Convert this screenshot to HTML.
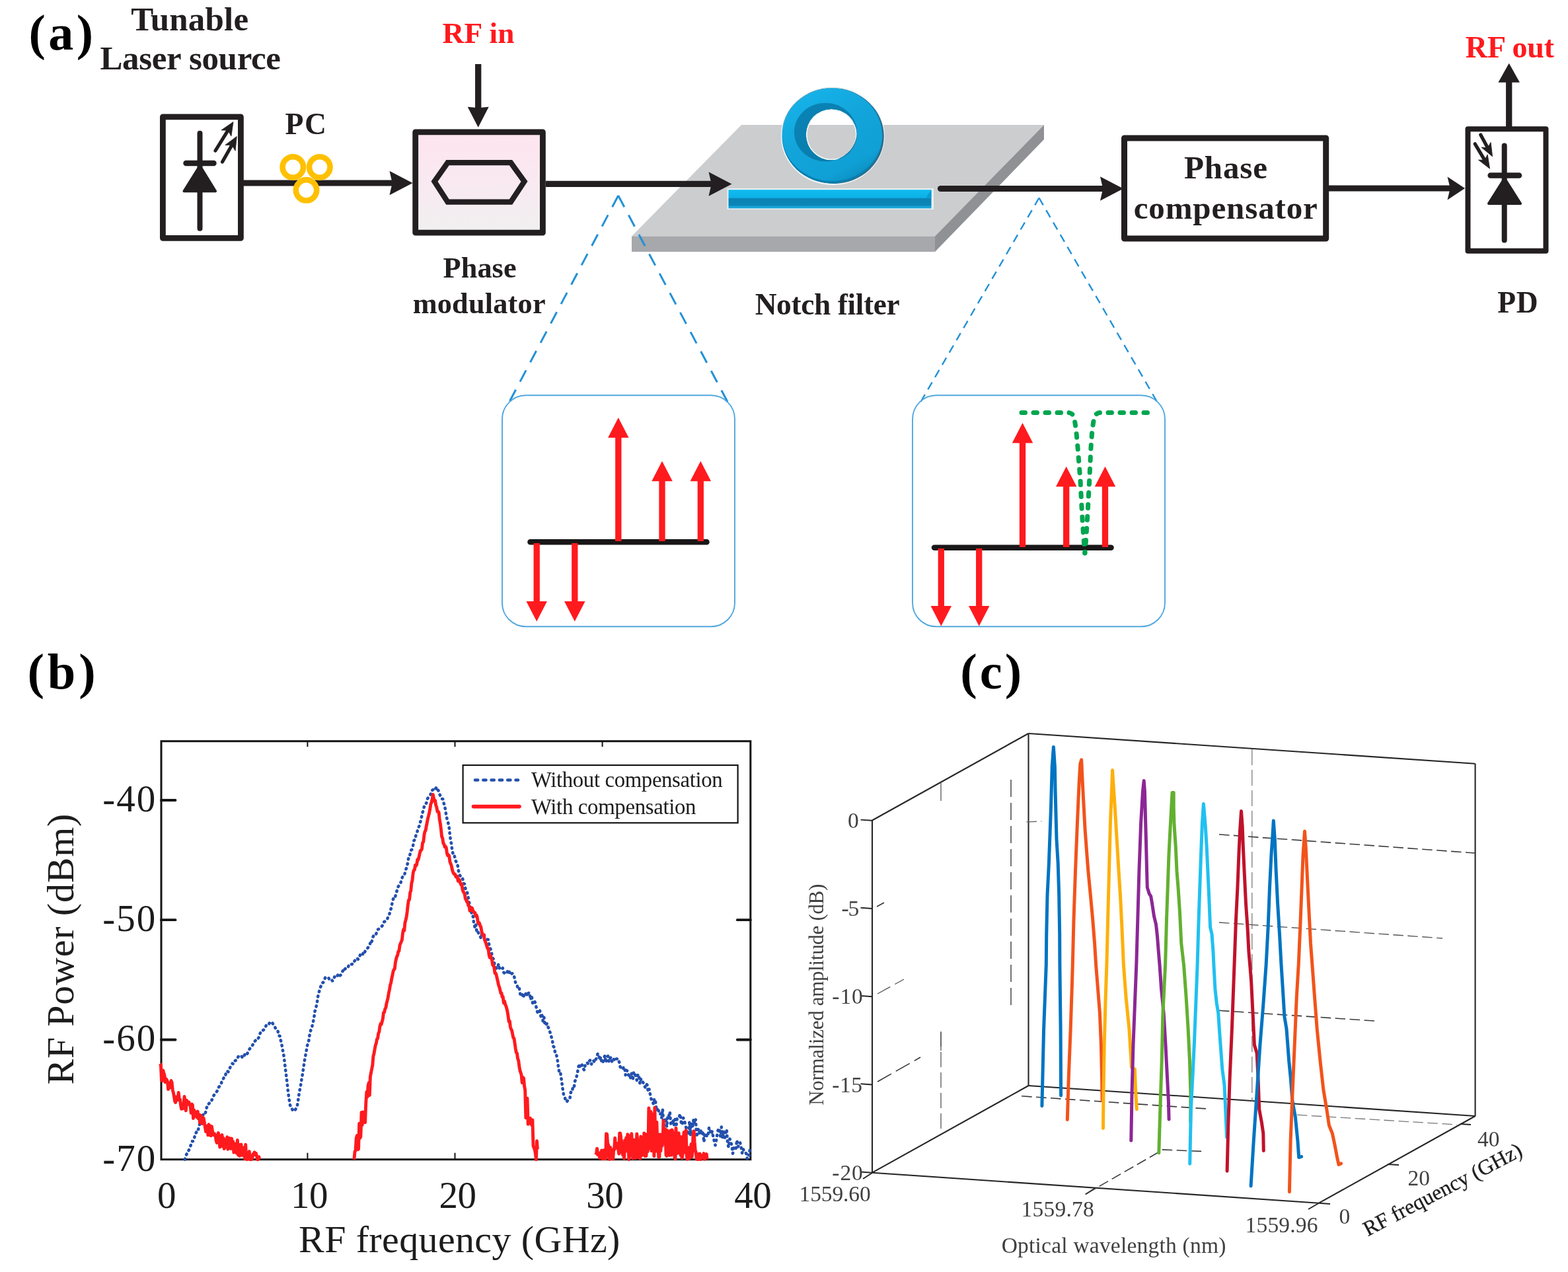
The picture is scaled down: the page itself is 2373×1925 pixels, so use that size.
<!DOCTYPE html>
<html lang="en"><head><meta charset="utf-8"><title>Microwave photonic filter figure</title>
<style>
html,body{margin:0;padding:0;background:#fff;}
svg{display:block;}
text{font-family:"Liberation Serif","Times New Roman",serif;white-space:pre;}
</style></head>
<body>
<svg xmlns="http://www.w3.org/2000/svg" width="2373" height="1925" viewBox="0 0 2373 1925">
<rect width="2373" height="1925" fill="#fff"/>
<defs>
<linearGradient id="pm" x1="0" y1="0" x2="0" y2="1"><stop offset="0" stop-color="#fee4ef"/><stop offset="0.5" stop-color="#f9e9f1"/><stop offset="1" stop-color="#f0f0f0"/></linearGradient>
<linearGradient id="bar" x1="0" y1="0" x2="0" y2="1"><stop offset="0" stop-color="#10bbef"/><stop offset="0.42" stop-color="#0cb2e8"/><stop offset="0.48" stop-color="#0a82b2"/><stop offset="0.84" stop-color="#0a86b8"/><stop offset="0.9" stop-color="#18a4d6"/><stop offset="1" stop-color="#18a4d6"/></linearGradient>
<linearGradient id="ringf" x1="0.2" y1="0" x2="0.8" y2="1"><stop offset="0" stop-color="#16b4ea"/><stop offset="0.45" stop-color="#12a4da"/><stop offset="0.8" stop-color="#0fa0d6"/><stop offset="1" stop-color="#0c88b8"/></linearGradient>
<linearGradient id="ringi" x1="0" y1="0" x2="1" y2="1"><stop offset="0" stop-color="#0984b6"/><stop offset="1" stop-color="#0a7aa8"/></linearGradient>
</defs>
<text x="43.47" y="75.30" font-size="76" font-weight="bold" fill="#000" letter-spacing="4.510" >(a)</text>
<text x="198.24" y="45.80" font-size="51" font-weight="bold" fill="#231f20" letter-spacing="0.188" >Tunable</text>
<text x="151.41" y="105.20" font-size="51" font-weight="bold" fill="#231f20" letter-spacing="-0.326" >Laser source</text>
<text x="669.61" y="65.10" font-size="45.3" font-weight="bold" fill="#ff1a1e" letter-spacing="0.261" >RF in</text>
<text x="431.60" y="202.50" font-size="45.6" font-weight="bold" fill="#231f20" letter-spacing="1.570" >PC</text>
<text x="670.52" y="420.00" font-size="44.3" font-weight="bold" fill="#231f20" letter-spacing="0.086" >Phase</text>
<text x="624.68" y="473.70" font-size="44.3" font-weight="bold" fill="#231f20" letter-spacing="0.196" >modulator</text>
<text x="1142.69" y="475.60" font-size="45.4" font-weight="bold" fill="#231f20" letter-spacing="-0.365" >Notch filter</text>
<text x="1791.94" y="270.00" font-size="49" font-weight="bold" fill="#231f20" letter-spacing="0.901" >Phase</text>
<text x="1715.69" y="331.00" font-size="49" font-weight="bold" fill="#231f20" letter-spacing="0.872" >compensator</text>
<text x="2217.80" y="87.00" font-size="46" font-weight="bold" fill="#ff1a1e" letter-spacing="-0.138" >RF out</text>
<text x="2266.30" y="473.40" font-size="45.5" font-weight="bold" fill="#231f20" letter-spacing="0.643" >PD</text>
<path d="M1122,189 L1580,189 L1415,357.5 L956,357.5 Z" fill="#cbcdcf"/>
<path d="M956,357.5 L1415,357.5 L1415,381 L956,381 Z" fill="#a6a8ab"/>
<path d="M1415,357.5 L1580,189 L1580,211 L1415,381 Z" fill="#8f9194"/>
<rect x="246.4" y="176.9" width="118" height="183.4" fill="#fff" stroke="#231f20" stroke-width="8.8" stroke-linejoin="round"/>
<line x1="302.5" y1="201.7" x2="302.5" y2="345.7" stroke="#231f20" stroke-width="8" stroke-linecap="round"/>
<line x1="281.5" y1="247" x2="323.5" y2="247" stroke="#231f20" stroke-width="8.5" stroke-linecap="round"/>
<path d="M302.5,251 L326,289.3 L278.5,289.3 Z" fill="#231f20" stroke="#231f20" stroke-width="4" stroke-linejoin="round"/>
<line x1="326" y1="228" x2="345.6" y2="196.4" stroke="#231f20" stroke-width="5.2" stroke-linecap="round"/>
<path d="M353,184.5 L349.9,206.1 L345.1,197.2 L335.0,196.9 Z" fill="#231f20" stroke="#231f20" stroke-width="0.8" stroke-linejoin="round"/>
<line x1="336.5" y1="245" x2="351.4" y2="218.7" stroke="#231f20" stroke-width="5.2" stroke-linecap="round"/>
<path d="M358.3,206.5 L356.1,228.2 L350.9,219.6 L340.8,219.6 Z" fill="#231f20" stroke="#231f20" stroke-width="0.8" stroke-linejoin="round"/>
<line x1="368" y1="277" x2="603.5" y2="277" stroke="#231f20" stroke-width="9.2" stroke-linecap="butt"/>
<path d="M624.5,277 L589.5,258.75 L593.7,277 L589.5,295.25 Z" fill="#231f20"/>
<circle cx="443.3" cy="252.9" r="15.7" fill="#fff" stroke="#ffc000" stroke-width="8.6"/>
<circle cx="483.8" cy="252.9" r="15.7" fill="#fff" stroke="#ffc000" stroke-width="8.6"/>
<circle cx="463.5" cy="287.8" r="15.7" fill="#fff" stroke="#ffc000" stroke-width="8.6"/>
<rect x="628.7" y="199.9" width="192.7" height="152.3" fill="url(#pm)" stroke="#231f20" stroke-width="8.8" stroke-linejoin="round"/>
<path d="M677.5,246.2 L773,246.2 L793.5,274.7 L773,305.7 L677.5,305.7 L657.5,274.7 Z" fill="none" stroke="#231f20" stroke-width="8.3" stroke-linejoin="miter"/>
<line x1="723.7" y1="97" x2="723.7" y2="174.1" stroke="#231f20" stroke-width="9.3"/>
<path d="M723.7,192.7 L707.7,161.7 L723.7,163.25 L739.7,161.7 Z" fill="#231f20"/>
<line x1="826" y1="278.4" x2="1086.5" y2="278.4" stroke="#231f20" stroke-width="9.2" stroke-linecap="butt"/>
<path d="M1107.5,278.4 L1072.5,260.15 L1076.7,278.4 L1072.5,296.65 Z" fill="#231f20"/>
<rect x="1100.5" y="285" width="312.5" height="32" fill="#e9eff2"/>
<rect x="1102.5" y="287.2" width="307" height="28.2" fill="url(#bar)"/>
<path d="M1409.5,287.2 L1401,299.5 L1409.5,299.5 Z" fill="#0b9ad0"/>
<path d="M1181.7,205.6 A78.6,74.6 0 1,1 1338.8999999999999,205.6 A78.6,74.6 0 1,1 1181.7,205.6 Z M1221.7,203.8 A36.6,36.8 0 1,0 1294.8999999999999,203.8 A36.6,36.8 0 1,0 1221.7,203.8 Z" fill="#eef3f5" fill-rule="evenodd"/>
<path d="M1186.6000000000001,206.3 A75.6,71.6 0 1,1 1337.8,206.3 A75.6,71.6 0 1,1 1186.6000000000001,206.3 Z M1219.7,203.8 A38.6,38.8 0 1,0 1296.8999999999999,203.8 A38.6,38.8 0 1,0 1219.7,203.8 Z" fill="#2f6a86" fill-rule="evenodd"/>
<path d="M1183.5,205.5 A75.9,72 0 1,1 1335.3000000000002,205.5 A75.9,72 0 1,1 1183.5,205.5 Z M1219.7,203.8 A38.6,38.8 0 1,0 1296.8999999999999,203.8 A38.6,38.8 0 1,0 1219.7,203.8 Z" fill="url(#ringf)" fill-rule="evenodd"/>
<path d="M1201.8999999999999,200 A47.4,44.2 0 1,1 1296.7,200 A47.4,44.2 0 1,1 1201.8999999999999,200 Z M1219.7,203.8 A38.6,38.8 0 1,0 1296.8999999999999,203.8 A38.6,38.8 0 1,0 1219.7,203.8 Z" fill="url(#ringi)" fill-rule="evenodd"/>
<path d="M1183.5,205.5 A75.9,72 0 1,1 1335.3000000000002,205.5 A75.9,72 0 1,1 1183.5,205.5 Z M1183.5,203.5 A75.9,70.5 0 1,0 1335.3000000000002,203.5 A75.9,70.5 0 1,0 1183.5,203.5 Z" fill="#0b7eae" fill-rule="evenodd"/>
<line x1="1423.5" y1="285.5" x2="1679.0" y2="285.5" stroke="#231f20" stroke-width="9.2" stroke-linecap="round"/>
<path d="M1700,285.5 L1665,267.25 L1669.2,285.5 L1665,303.75 Z" fill="#231f20"/>
<rect x="1701.5" y="209" width="305.2" height="152" fill="none" stroke="#231f20" stroke-width="9" stroke-linejoin="round"/>
<line x1="2011" y1="285" x2="2201.1" y2="285" stroke="#231f20" stroke-width="8.8" stroke-linecap="butt"/>
<path d="M2217,285 L2190.5,267.5 L2194.74,285 L2190.5,302.5 Z" fill="#231f20"/>
<rect x="2221.5" y="195.3" width="118" height="184.4" fill="#fff" stroke="#231f20" stroke-width="8" stroke-linejoin="round"/>
<line x1="2276.7" y1="220.5" x2="2276.7" y2="363.5" stroke="#231f20" stroke-width="8" stroke-linecap="round"/>
<line x1="2255.7" y1="265.5" x2="2299" y2="265.5" stroke="#231f20" stroke-width="8.5" stroke-linecap="round"/>
<path d="M2277,270 L2301,308 L2253,308 Z" fill="#231f20" stroke="#231f20" stroke-width="4" stroke-linejoin="round"/>
<line x1="2240.8" y1="204" x2="2251.9" y2="224.5" stroke="#231f20" stroke-width="5.2" stroke-linecap="round"/>
<path d="M2258.6,236.8 L2242.0,223.0 L2251.4,223.6 L2256.1,215.4 Z" fill="#231f20" stroke="#231f20" stroke-width="0.8" stroke-linejoin="round"/>
<line x1="2232.3" y1="217.8" x2="2247.4" y2="243.2" stroke="#231f20" stroke-width="5.2" stroke-linecap="round"/>
<path d="M2254.6,255.2 L2237.5,242.1 L2246.9,242.3 L2251.2,233.9 Z" fill="#231f20" stroke="#231f20" stroke-width="0.8" stroke-linejoin="round"/>
<line x1="2283.7" y1="192" x2="2283.7" y2="113.1" stroke="#231f20" stroke-width="9.3"/>
<path d="M2283.7,95.7 L2267.45,124.7 L2283.7,124.7 L2299.95,124.7 Z" fill="#231f20"/>
<line x1="935.7" y1="296" x2="771.5" y2="607" stroke="#2391d6" stroke-width="3" stroke-dasharray="19.5 13.72"/>
<line x1="935.7" y1="296" x2="1101" y2="608" stroke="#2391d6" stroke-width="3" stroke-dasharray="19.5 13.86"/>
<line x1="1572.5" y1="299.5" x2="1393.5" y2="608" stroke="#2391d6" stroke-width="2.4" stroke-dasharray="12.5 9.01"/>
<line x1="1572.5" y1="299.5" x2="1750.5" y2="607" stroke="#2391d6" stroke-width="2.4" stroke-dasharray="12.5 8.93"/>
<rect x="760" y="598.3" width="352" height="350" rx="36" fill="none" stroke="#52a8de" stroke-width="1.9"/>
<rect x="1381" y="598.3" width="382" height="350" rx="36" fill="none" stroke="#52a8de" stroke-width="1.9"/>
<line x1="802.5" y1="820.2" x2="1069.5" y2="820.2" stroke="#1a1718" stroke-width="8.5" stroke-linecap="round"/>
<line x1="935.8" y1="819" x2="935.8" y2="650.3" stroke="#ff1a1e" stroke-width="9.3"/>
<path d="M935.8,632 L920.05,662.5 L935.8,662.5 L951.55,662.5 Z" fill="#ff1a1e"/>
<line x1="1002" y1="819" x2="1002" y2="716.0" stroke="#ff1a1e" stroke-width="9.3"/>
<path d="M1002,697.7 L986.25,728.2 L1002,728.2 L1017.75,728.2 Z" fill="#ff1a1e"/>
<line x1="1060.3" y1="819" x2="1060.3" y2="716.0" stroke="#ff1a1e" stroke-width="9.3"/>
<path d="M1060.3,697.7 L1044.55,728.2 L1060.3,728.2 L1076.05,728.2 Z" fill="#ff1a1e"/>
<line x1="812.2" y1="822" x2="812.2" y2="922.2" stroke="#ff1a1e" stroke-width="9.3"/>
<path d="M812.2,940.5 L796.45,910.0 L812.2,910.0 L827.95,910.0 Z" fill="#ff1a1e"/>
<line x1="869.8" y1="822" x2="869.8" y2="922.2" stroke="#ff1a1e" stroke-width="9.3"/>
<path d="M869.8,940.5 L854.05,910.0 L869.8,910.0 L885.55,910.0 Z" fill="#ff1a1e"/>
<line x1="1414" y1="828.8" x2="1681.5" y2="828.8" stroke="#1a1718" stroke-width="8.5" stroke-linecap="round"/>
<line x1="1547.5" y1="828" x2="1547.5" y2="658.3" stroke="#ff1a1e" stroke-width="9.3"/>
<path d="M1547.5,640 L1531.75,670.5 L1547.5,670.5 L1563.25,670.5 Z" fill="#ff1a1e"/>
<line x1="1613.7" y1="828" x2="1613.7" y2="724.3" stroke="#ff1a1e" stroke-width="9.3"/>
<path d="M1613.7,706 L1597.95,736.5 L1613.7,736.5 L1629.45,736.5 Z" fill="#ff1a1e"/>
<line x1="1672.5" y1="828" x2="1672.5" y2="724.3" stroke="#ff1a1e" stroke-width="9.3"/>
<path d="M1672.5,706 L1656.75,736.5 L1672.5,736.5 L1688.25,736.5 Z" fill="#ff1a1e"/>
<line x1="1424.3" y1="830" x2="1424.3" y2="929.2" stroke="#ff1a1e" stroke-width="9.3"/>
<path d="M1424.3,947.5 L1408.55,917.0 L1424.3,917.0 L1440.05,917.0 Z" fill="#ff1a1e"/>
<line x1="1481.7" y1="830" x2="1481.7" y2="929.2" stroke="#ff1a1e" stroke-width="9.3"/>
<path d="M1481.7,947.5 L1465.95,917.0 L1481.7,917.0 L1497.45,917.0 Z" fill="#ff1a1e"/>
<path d="M1546,624.5 L1617,624.5 Q1624.5,625 1626,634 L1628.5,650 L1631,677 L1635,727 L1637.5,777 L1640,815 L1641.7,837" fill="none" stroke="#00a650" stroke-width="7" stroke-dasharray="5.5 12.5" stroke-linecap="round" stroke-linejoin="round"/>
<path d="M1736.5,624.5 L1665,624.5 Q1657,625 1655.5,634 L1653,650 L1651,677 L1648.7,727 L1646,777 L1643.7,815 L1642,837" fill="none" stroke="#00a650" stroke-width="7" stroke-dasharray="5.5 12.5" stroke-linecap="round" stroke-linejoin="round"/>
<text x="41.45" y="1042.20" font-size="76.5" font-weight="bold" fill="#000" letter-spacing="4.941" >(b)</text>
<rect x="244.0" y="1121.7" width="891.8" height="633.0" fill="none" stroke="#141414" stroke-width="3"/>
<line x1="465.4" y1="1754.7" x2="465.4" y2="1744.7" stroke="#141414" stroke-width="2"/>
<line x1="465.4" y1="1121.7" x2="465.4" y2="1130.2" stroke="#141414" stroke-width="2"/>
<line x1="688.5" y1="1754.7" x2="688.5" y2="1744.7" stroke="#141414" stroke-width="2"/>
<line x1="688.5" y1="1121.7" x2="688.5" y2="1130.2" stroke="#141414" stroke-width="2"/>
<line x1="911.6" y1="1754.7" x2="911.6" y2="1744.7" stroke="#141414" stroke-width="2"/>
<line x1="911.6" y1="1121.7" x2="911.6" y2="1130.2" stroke="#141414" stroke-width="2"/>
<line x1="244.0" y1="1211.0" x2="265.5" y2="1211.0" stroke="#141414" stroke-width="3.8" stroke-linecap="round"/>
<line x1="244.0" y1="1392.2" x2="265.5" y2="1392.2" stroke="#141414" stroke-width="3.8" stroke-linecap="round"/>
<line x1="1135.8" y1="1392.2" x2="1115.8" y2="1392.2" stroke="#141414" stroke-width="3.8" stroke-linecap="round"/>
<line x1="244.0" y1="1573.5" x2="265.5" y2="1573.5" stroke="#141414" stroke-width="3.8" stroke-linecap="round"/>
<line x1="1135.8" y1="1573.5" x2="1115.8" y2="1573.5" stroke="#141414" stroke-width="3.8" stroke-linecap="round"/>
<text x="155.36" y="1228.00" font-size="57" font-weight="normal" fill="#1c1c1c" letter-spacing="2.011" >-40</text>
<text x="155.36" y="1409.23" font-size="57" font-weight="normal" fill="#1c1c1c" letter-spacing="2.011" >-50</text>
<text x="155.36" y="1590.47" font-size="57" font-weight="normal" fill="#1c1c1c" letter-spacing="2.011" >-60</text>
<text x="155.36" y="1771.70" font-size="57" font-weight="normal" fill="#1c1c1c" letter-spacing="2.011" >-70</text>
<text x="237.95" y="1828.00" font-size="57" font-weight="normal" fill="#1c1c1c" letter-spacing="0.000" >0</text>
<text x="440.02" y="1828.00" font-size="57" font-weight="normal" fill="#1c1c1c" letter-spacing="-0.500" >10</text>
<text x="664.41" y="1828.00" font-size="57" font-weight="normal" fill="#1c1c1c" letter-spacing="-0.500" >20</text>
<text x="887.37" y="1828.00" font-size="57" font-weight="normal" fill="#1c1c1c" letter-spacing="-0.500" >30</text>
<text x="1111.25" y="1828.00" font-size="57" font-weight="normal" fill="#1c1c1c" letter-spacing="-0.500" >40</text>
<text x="452.10" y="1895.00" font-size="58" font-weight="normal" fill="#1c1c1c" letter-spacing="0.371" >RF frequency (GHz)</text>
<text transform="translate(111.00,1641.60) rotate(-90)" x="0" y="0" font-size="58" font-weight="normal" fill="#1c1c1c" letter-spacing="0.803">RF Power (dBm)</text>
<rect x="700.6" y="1158" width="416" height="87.3" fill="#fff" stroke="#141414" stroke-width="2.2"/>
<line x1="719" y1="1180.5" x2="784" y2="1180.5" stroke="#2450ad" stroke-width="4.6" stroke-dasharray="4.2 8.1" stroke-linecap="round"/>
<line x1="716.5" y1="1220.6" x2="786" y2="1220.6" stroke="#ff1a1e" stroke-width="5.6" stroke-linecap="round"/>
<text x="804.00" y="1191.40" font-size="32.8" font-weight="normal" fill="#1c1c1c" letter-spacing="-0.363" >Without compensation</text>
<text x="804.00" y="1232.30" font-size="32.8" font-weight="normal" fill="#1c1c1c" letter-spacing="-0.325" >With compensation</text>
<polyline points="279.8,1754.7 281.3,1749.1 282.9,1745.8 284.5,1744.9 286.0,1739.9 287.6,1736.4 289.2,1731.6 290.7,1727.1 292.3,1727.2 293.8,1723.8 295.4,1715.7 297.0,1714.2 298.5,1708.7 300.1,1709.2 301.6,1703.2 303.2,1698.0 304.8,1697.0 306.3,1689.5 307.9,1686.1 309.5,1687.2 311.0,1683.6 312.6,1677.1 314.1,1671.3 315.7,1670.7 317.3,1669.0 318.8,1665.4 320.4,1665.1 321.9,1661.6 323.5,1658.0 325.1,1655.3 326.6,1654.2 328.2,1651.7 329.8,1649.0 331.3,1644.9 332.9,1643.1 334.4,1641.8 336.0,1634.6 337.6,1633.3 339.1,1630.1 340.7,1629.8 342.2,1622.6 343.8,1620.6 345.4,1622.1 346.9,1618.9 348.5,1614.8 350.1,1612.8 351.6,1609.5 353.2,1610.3 354.7,1606.1 356.3,1604.9 357.9,1604.9 359.4,1601.3 361.0,1598.4 362.6,1598.1 364.1,1599.5 365.7,1598.6 367.2,1601.1 368.8,1599.5 370.4,1596.0 371.9,1597.6 373.5,1597.0 375.0,1592.5 376.6,1589.2 378.2,1586.9 379.7,1586.1 381.3,1583.3 382.9,1580.5 384.4,1576.5 386.0,1575.5 387.5,1573.7 389.1,1571.1 390.7,1571.5 392.2,1569.3 393.8,1563.6 395.3,1560.0 396.9,1560.0 398.5,1558.9 400.0,1558.0 401.6,1554.7 403.2,1551.0 404.7,1551.0 406.3,1551.2 407.8,1548.3 409.4,1550.6 411.0,1549.8 412.5,1548.5 414.1,1551.6 415.6,1553.3 417.2,1556.6 418.8,1558.3 420.3,1559.2 421.9,1567.5 423.5,1567.7 425.0,1575.0 426.6,1582.1 428.1,1590.4 429.7,1598.8 431.3,1612.6 432.8,1624.6 434.4,1637.6 436.0,1652.8 437.5,1663.0 439.1,1672.6 440.6,1677.4 442.2,1678.6 443.8,1681.5 445.3,1681.5 446.9,1679.6 448.4,1676.5 450.0,1672.7 451.6,1662.0 453.1,1652.1 454.7,1644.2 456.3,1634.4 457.8,1626.0 459.4,1615.0 460.9,1604.8 462.5,1596.4 464.1,1587.7 465.6,1579.6 467.2,1575.6 468.7,1565.3 470.3,1559.1 471.9,1555.3 473.4,1548.6 475.0,1541.5 476.6,1530.4 478.1,1525.4 479.7,1518.4 481.2,1507.8 482.8,1501.6 484.4,1495.4 485.9,1491.8 487.5,1487.5 489.0,1487.1 490.6,1484.2 492.2,1479.6 493.7,1478.6 495.3,1478.9 496.9,1479.1 498.4,1482.4 500.0,1481.4 501.5,1482.2 503.1,1484.4 504.7,1483.9 506.2,1478.3 507.8,1479.2 509.4,1479.5 510.9,1476.1 512.5,1473.7 514.0,1476.8 515.6,1475.5 517.2,1473.5 518.7,1469.2 520.3,1470.9 521.8,1466.6 523.4,1465.3 525.0,1464.6 526.5,1465.0 528.1,1459.4 529.7,1459.0 531.2,1459.1 532.8,1459.3 534.3,1455.5 535.9,1455.5 537.5,1453.1 539.0,1453.0 540.6,1450.1 542.1,1451.9 543.7,1449.3 545.3,1444.4 546.8,1443.7 548.4,1445.5 550.0,1441.2 551.5,1442.9 553.1,1437.6 554.6,1435.9 556.2,1434.9 557.8,1433.1 559.3,1431.7 560.9,1424.2 562.4,1426.0 564.0,1419.0 565.6,1415.5 567.1,1415.4 568.7,1415.4 570.3,1409.4 571.8,1406.6 573.4,1405.9 574.9,1404.8 576.5,1403.4 578.1,1401.4 579.6,1399.9 581.2,1395.2 582.8,1394.4 584.3,1393.6 585.9,1392.0 587.4,1386.8 589.0,1384.8 590.6,1378.4 592.1,1374.0 593.7,1365.7 595.2,1360.2 596.8,1361.0 598.4,1356.1 599.9,1351.5 601.5,1344.0 603.1,1341.2 604.6,1339.7 606.2,1336.7 607.7,1330.8 609.3,1326.6 610.9,1322.8 612.4,1322.7 614.0,1316.5 615.5,1312.4 617.1,1305.9 618.7,1295.5 620.2,1294.4 621.8,1287.0 623.4,1285.7 624.9,1280.5 626.5,1271.8 628.0,1271.1 629.6,1263.5 631.2,1259.8 632.7,1253.5 634.3,1250.5 635.8,1245.0 637.4,1239.7 639.0,1231.0 640.5,1226.8 642.1,1220.0 643.7,1215.9 645.2,1215.6 646.8,1208.9 648.3,1206.9 649.9,1204.4 651.5,1202.7 653.0,1196.7 654.6,1195.7 656.2,1194.3 657.7,1195.8 659.3,1193.2 660.8,1191.1 662.4,1195.2 664.0,1197.2 665.5,1202.2 667.1,1206.4 668.6,1209.0 670.2,1209.2 671.8,1216.1 673.3,1221.2 674.9,1230.9 676.5,1239.4 678.0,1244.2 679.6,1251.6 681.1,1265.7 682.7,1274.6 684.3,1286.2 685.8,1293.2 687.4,1292.9 688.9,1301.5 690.5,1304.3 692.1,1306.5 693.6,1316.3 695.2,1323.5 696.8,1326.0 698.3,1328.4 699.9,1328.4 701.4,1336.9 703.0,1337.6 704.6,1345.6 706.1,1347.5 707.7,1353.0 709.2,1361.6 710.8,1369.5 712.4,1373.5 713.9,1383.9 715.5,1384.2 717.1,1396.8 718.6,1403.0 720.2,1398.3 721.7,1411.7 723.3,1410.4 724.9,1413.3 726.4,1416.0 728.0,1420.0 729.6,1412.0 731.1,1412.7 732.7,1413.9 734.2,1424.6 735.8,1424.7 737.4,1421.6 738.9,1422.0 740.5,1431.6 742.0,1434.9 743.6,1440.1 745.2,1449.4 746.7,1451.2 748.3,1458.6 749.9,1462.7 751.4,1465.9 753.0,1465.1 754.5,1458.9 756.1,1466.1 757.7,1465.3 759.2,1466.8 760.8,1465.0 762.3,1471.6 763.9,1472.9 765.5,1473.1 767.0,1473.6 768.6,1468.2 770.2,1468.0 771.7,1474.9 773.3,1474.9 774.8,1473.0 776.4,1473.4 778.0,1476.9 779.5,1484.3 781.1,1490.3 782.6,1491.5 784.2,1496.9 785.8,1495.3 787.3,1504.2 788.9,1507.7 790.5,1505.2 792.0,1510.0 793.6,1503.6 795.1,1505.8 796.7,1500.9 798.3,1507.6 799.8,1502.9 801.4,1502.2 803.0,1513.0 804.5,1506.6 806.1,1518.1 807.6,1514.6 809.2,1515.3 810.8,1520.2 812.3,1528.3 813.9,1533.2 815.4,1531.3 817.0,1529.4 818.6,1538.7 820.1,1534.8 821.7,1545.5 823.3,1539.6 824.8,1551.7 826.4,1551.2 827.9,1548.7 829.5,1554.3 831.1,1557.6 832.6,1562.8 834.2,1568.3 835.7,1573.4 837.3,1583.4 838.9,1585.1 840.4,1595.1 842.0,1596.1 843.6,1603.7 845.1,1615.2 846.7,1624.3 848.2,1623.5 849.8,1634.5 851.4,1646.6 852.9,1656.0 854.5,1658.6 856.0,1666.3 857.6,1667.6 859.2,1665.4 860.7,1663.4 862.3,1663.1 863.9,1652.9 865.4,1653.4 867.0,1645.8 868.5,1646.9 870.1,1636.3 871.7,1633.1 873.2,1626.9 874.8,1618.6 876.4,1609.9 877.9,1615.7 879.5,1615.2 881.0,1611.7 882.6,1616.7 884.2,1619.5 885.7,1611.5 887.3,1611.4 888.8,1608.3 890.4,1610.4 892.0,1605.8 893.5,1604.2 895.1,1610.4 896.7,1605.8 898.2,1605.0 899.8,1607.8 901.3,1604.1 902.9,1601.0 904.5,1595.0 906.0,1594.8 907.6,1604.5 909.1,1599.4 910.7,1608.4 912.3,1608.4 913.8,1602.3 915.4,1597.3 917.0,1608.0 918.5,1599.6 920.1,1598.2 921.6,1606.8 923.2,1601.6 924.8,1599.9 926.3,1607.4 927.9,1603.1 929.4,1603.2 931.0,1605.8 932.6,1602.5 934.1,1602.5 935.7,1602.1 937.3,1608.3 938.8,1615.0 940.4,1615.9 941.9,1618.4 943.5,1615.4 945.1,1614.7 946.6,1626.9 948.2,1619.8 949.8,1621.2 951.3,1627.3 952.9,1625.7 954.4,1631.6 956.0,1624.2 957.6,1634.9 959.1,1622.1 960.7,1625.4 962.2,1628.8 963.8,1634.8 965.4,1626.3 966.9,1626.4 968.5,1639.9 970.1,1632.7 971.6,1633.7 973.2,1638.4 974.7,1639.8 976.3,1645.5 977.9,1640.5 979.4,1641.8 981.0,1652.4 982.5,1648.3 984.1,1656.5 985.7,1663.7 987.2,1664.7 988.8,1670.9 990.4,1662.8 991.9,1665.4 993.5,1680.9 995.0,1676.2 996.6,1680.6 998.2,1686.5 999.7,1685.5 1001.3,1691.9 1002.8,1678.1 1004.4,1702.7 1006.0,1698.6 1007.5,1691.9 1009.1,1705.5 1010.7,1687.6 1012.2,1689.0 1013.8,1682.7 1015.3,1702.8 1016.9,1701.1 1018.5,1694.0 1020.0,1703.0 1021.6,1694.1 1023.2,1705.2 1024.7,1692.6 1026.3,1690.0 1027.8,1690.3 1029.4,1685.9 1031.0,1699.9 1032.5,1702.3 1034.1,1691.8 1035.6,1695.2 1037.2,1702.0 1038.8,1708.2 1040.3,1711.8 1041.9,1717.7 1043.5,1696.6 1045.0,1718.4 1046.6,1699.5 1048.1,1706.2 1049.7,1693.7 1051.3,1700.5 1052.8,1694.5 1054.4,1720.7 1055.9,1710.0 1057.5,1708.3 1059.1,1716.8 1060.6,1711.4 1062.2,1716.4 1063.8,1711.6 1065.3,1728.3 1066.9,1715.2 1068.4,1715.4 1070.0,1720.3 1071.6,1717.9 1073.1,1706.5 1074.7,1710.0 1076.2,1716.4 1077.8,1712.0 1079.4,1720.8 1080.9,1726.6 1082.5,1733.2 1084.1,1725.2 1085.6,1715.8 1087.2,1707.5 1088.7,1709.6 1090.3,1719.9 1091.9,1705.6 1093.4,1722.3 1095.0,1711.3 1096.5,1724.8 1098.1,1715.4 1099.7,1709.0 1101.2,1731.1 1102.8,1736.3 1104.4,1723.5 1105.9,1727.3 1107.5,1733.7 1109.0,1745.7 1110.6,1735.0 1112.2,1735.5 1113.7,1737.8 1115.3,1725.4 1116.9,1735.5 1118.4,1732.6 1120.0,1729.1 1121.5,1735.4 1123.1,1744.9 1124.7,1738.7 1126.2,1743.4 1127.8,1744.1 1129.3,1745.6 1130.9,1753.4 1132.5,1747.5 1134.0,1748.4 1134.7,1739.4" fill="none" stroke="#2450ad" stroke-width="4.6" stroke-linejoin="round" stroke-dasharray="1.1 6.5" stroke-linecap="round"/>
<polyline points="242.3,1609.8 243.4,1611.8 244.5,1634.7 245.6,1635.8 246.8,1619.9 247.9,1624.1 249.0,1627.5 250.1,1637.8 251.2,1632.6 252.3,1634.4 253.5,1636.8 254.6,1648.5 255.7,1643.7 256.8,1646.3 257.9,1640.3 259.0,1635.5 260.1,1638.3 261.3,1649.6 262.4,1653.6 263.5,1659.5 264.6,1666.6 265.7,1668.5 266.8,1659.9 268.0,1664.9 269.1,1664.5 270.2,1653.5 271.3,1663.2 272.4,1663.5 273.5,1672.2 274.6,1678.2 275.8,1672.2 276.9,1677.7 278.0,1669.9 279.1,1659.5 280.2,1668.1 281.3,1680.8 282.5,1665.1 283.6,1668.4 284.7,1671.0 285.8,1667.9 286.9,1672.4 288.0,1673.0 289.2,1684.4 290.3,1670.9 291.4,1672.5 292.5,1692.6 293.6,1679.8 294.7,1682.0 295.8,1689.2 297.0,1688.7 298.1,1690.9 299.2,1681.9 300.3,1693.1 301.4,1686.6 302.5,1699.1 303.7,1687.9 304.8,1688.8 305.9,1700.5 307.0,1699.3 308.1,1692.2 309.2,1698.2 310.3,1705.0 311.5,1712.6 312.6,1711.5 313.7,1703.9 314.8,1717.8 315.9,1701.6 317.0,1717.7 318.2,1703.6 319.3,1718.8 320.4,1704.6 321.5,1711.5 322.6,1717.3 323.7,1718.0 324.8,1715.9 326.0,1718.5 327.1,1726.0 328.2,1729.5 329.3,1723.4 330.4,1714.4 331.5,1722.8 332.7,1736.1 333.8,1718.9 334.9,1721.5 336.0,1717.5 337.1,1734.8 338.2,1722.1 339.3,1738.6 340.5,1725.0 341.6,1734.3 342.7,1735.8 343.8,1720.8 344.9,1739.3 346.0,1729.9 347.2,1722.4 348.3,1737.2 349.4,1738.3 350.5,1722.9 351.6,1734.0 352.7,1727.5 353.8,1744.0 355.0,1736.8 356.1,1742.0 357.2,1730.8 358.3,1745.4 359.4,1725.5 360.5,1748.0 361.7,1732.1 362.8,1749.4 363.9,1744.5 365.0,1732.0 366.1,1748.2 367.2,1748.2 368.4,1736.9 369.5,1744.7 370.6,1753.7 371.7,1732.3 372.8,1752.9 373.9,1754.7 375.0,1750.2 376.2,1744.7 377.3,1742.6 378.4,1754.7 379.5,1754.0 380.6,1754.7 381.7,1753.2 382.9,1746.6 384.0,1747.4 385.1,1743.8 386.2,1747.5 387.3,1745.2 388.4,1749.1 389.5,1754.7 390.7,1754.7 391.8,1750.7 392.9,1754.7" fill="none" stroke="#ff1a1e" stroke-width="4.9" stroke-linejoin="round" />
<polyline points="535.9,1754.7 537.0,1743.1 538.1,1740.9 539.2,1722.4 540.4,1718.4 541.5,1739.8 542.6,1739.0 543.7,1700.2 544.8,1722.3 545.9,1720.2 547.1,1683.4 548.2,1702.6 549.3,1682.9 550.4,1694.9 551.5,1684.1 552.6,1698.7 553.7,1670.1 554.9,1652.5 556.0,1660.0 557.1,1643.0 558.2,1638.6 559.3,1657.5 560.4,1629.2 561.6,1623.0 562.7,1617.6 563.8,1612.1 564.9,1598.5 566.0,1594.5 567.1,1588.0 568.2,1582.1 569.4,1578.6 570.5,1572.4 571.6,1571.5 572.7,1563.8 573.8,1561.7 574.9,1553.4 576.1,1549.1 577.2,1550.2 578.3,1546.0 579.4,1541.5 580.5,1532.2 581.6,1532.1 582.8,1526.8 583.9,1525.0 585.0,1518.5 586.1,1514.4 587.2,1509.7 588.3,1503.0 589.4,1498.0 590.6,1490.7 591.7,1487.3 592.8,1480.6 593.9,1476.1 595.0,1470.1 596.1,1467.5 597.3,1466.3 598.4,1456.8 599.5,1451.5 600.6,1447.5 601.7,1445.5 602.8,1440.0 603.9,1439.2 605.1,1430.2 606.2,1427.6 607.3,1425.2 608.4,1422.4 609.5,1412.2 610.6,1406.8 611.8,1408.4 612.9,1396.5 614.0,1392.6 615.1,1387.7 616.2,1380.0 617.3,1369.8 618.4,1362.3 619.6,1361.6 620.7,1350.7 621.8,1348.1 622.9,1336.4 624.0,1332.5 625.1,1321.8 626.3,1316.7 627.4,1316.4 628.5,1309.1 629.6,1310.4 630.7,1308.4 631.8,1300.8 632.9,1301.2 634.1,1296.6 635.2,1291.8 636.3,1287.1 637.4,1287.1 638.5,1284.6 639.6,1275.3 640.8,1274.1 641.9,1263.8 643.0,1258.6 644.1,1256.7 645.2,1250.5 646.3,1245.1 647.4,1239.2 648.6,1234.5 649.7,1229.7 650.8,1224.3 651.9,1216.9 653.0,1214.6 654.1,1209.8 655.3,1202.3 656.4,1208.2 657.5,1212.1 658.6,1211.5 659.7,1218.9 660.8,1221.5 662.0,1228.3 663.1,1228.2 664.2,1229.9 665.3,1241.0 666.4,1246.5 667.5,1255.6 668.6,1266.2 669.8,1268.6 670.9,1276.3 672.0,1277.5 673.1,1281.7 674.2,1280.9 675.3,1282.8 676.5,1291.6 677.6,1294.8 678.7,1293.9 679.8,1295.4 680.9,1304.3 682.0,1306.8 683.1,1309.8 684.3,1315.7 685.4,1319.4 686.5,1321.8 687.6,1323.0 688.7,1323.0 689.8,1326.7 691.0,1327.7 692.1,1326.4 693.2,1333.4 694.3,1331.1 695.4,1331.5 696.5,1336.2 697.6,1338.7 698.8,1338.0 699.9,1345.5 701.0,1349.3 702.1,1351.0 703.2,1352.5 704.3,1360.2 705.5,1361.8 706.6,1364.9 707.7,1364.5 708.8,1370.6 709.9,1370.8 711.0,1378.4 712.1,1377.5 713.3,1375.5 714.4,1374.1 715.5,1377.5 716.6,1379.5 717.7,1381.1 718.8,1381.1 720.0,1386.5 721.1,1385.0 722.2,1387.8 723.3,1395.5 724.4,1397.8 725.5,1396.9 726.7,1401.1 727.8,1402.9 728.9,1409.2 730.0,1413.8 731.1,1415.6 732.2,1414.9 733.3,1421.8 734.5,1424.9 735.6,1428.0 736.7,1431.6 737.8,1435.3 738.9,1435.2 740.0,1444.4 741.2,1449.1 742.3,1445.9 743.4,1450.0 744.5,1452.9 745.6,1460.5 746.7,1460.4 747.8,1464.2 749.0,1472.9 750.1,1472.7 751.2,1475.7 752.3,1480.6 753.4,1485.2 754.5,1490.5 755.7,1493.8 756.8,1498.2 757.9,1503.0 759.0,1502.9 760.1,1508.7 761.2,1508.5 762.3,1517.7 763.5,1515.1 764.6,1520.2 765.7,1522.2 766.8,1526.2 767.9,1530.7 769.0,1537.6 770.2,1546.2 771.3,1545.4 772.4,1554.1 773.5,1557.7 774.6,1559.6 775.7,1565.1 776.8,1570.5 778.0,1571.4 779.1,1579.2 780.2,1586.6 781.3,1592.7 782.4,1593.7 783.5,1601.9 784.7,1605.1 785.8,1613.7 786.9,1620.2 788.0,1623.2 789.1,1626.9 790.2,1638.6 791.3,1630.4 792.5,1631.7 793.6,1643.7 794.7,1649.9 795.8,1691.7 796.9,1668.5 798.0,1662.2 799.2,1701.4 800.3,1695.6 801.4,1699.6 802.5,1692.2 803.6,1700.6 804.7,1702.6 805.9,1694.8 807.0,1734.0 808.1,1737.1 809.2,1739.4 810.3,1745.7 811.4,1754.7 812.5,1726.8 813.4,1739.3" fill="none" stroke="#ff1a1e" stroke-width="4.9" stroke-linejoin="round" />
<polyline points="901.6,1747.7 902.6,1745.7 903.6,1738.2 904.6,1747.5 905.6,1746.7 906.6,1745.1 907.6,1752.3 908.6,1746.6 909.6,1744.3 910.6,1741.0 911.6,1753.6 912.6,1750.4 913.6,1753.7 914.6,1740.6 915.6,1743.0 916.6,1753.8 917.6,1715.7 918.6,1716.5 919.6,1730.8 920.6,1732.4 921.6,1750.4 922.6,1754.4 923.6,1736.2 924.7,1753.3 925.7,1749.3 926.7,1747.4 927.7,1754.1 928.7,1738.8 929.7,1739.8 930.7,1722.2 931.7,1736.5 932.7,1731.3 933.7,1737.4 934.7,1730.4 935.7,1739.1 936.7,1746.1 937.7,1714.9 938.7,1715.0 939.7,1722.3 940.7,1728.4 941.7,1744.7 942.7,1747.9 943.7,1745.7 944.7,1753.1 945.7,1725.7 946.7,1741.4 947.7,1722.1 948.7,1742.0 949.8,1716.8 950.8,1722.0 951.8,1754.7 952.8,1748.6 953.8,1719.1 954.8,1738.6 955.8,1715.8 956.8,1741.5 957.8,1753.0 958.8,1731.8 959.8,1725.1 960.8,1746.4 961.8,1752.6 962.8,1743.9 963.8,1715.9 964.8,1725.4 965.8,1751.5 966.8,1746.9 967.8,1752.0 968.8,1753.2 969.8,1720.1 970.8,1748.8 971.8,1730.2 972.8,1735.0 973.8,1747.2 974.8,1715.0 975.9,1749.4 976.9,1716.6 977.9,1749.5 978.9,1729.3 979.9,1743.0 980.9,1738.5 981.9,1677.1 982.9,1691.5 983.9,1734.7 984.9,1682.2 985.9,1741.7 986.9,1727.4 987.9,1686.3 988.9,1706.8 989.9,1749.6 990.9,1676.3 991.9,1742.4 992.9,1739.4 993.9,1698.2 994.9,1734.6 995.9,1737.1 996.9,1751.4 997.9,1750.6 998.9,1716.7 999.9,1741.7 1001.0,1717.2 1002.0,1734.3 1003.0,1729.8 1004.0,1696.0 1005.0,1730.0 1006.0,1725.6 1007.0,1708.9 1008.0,1747.9 1009.0,1749.3 1010.0,1710.7 1011.0,1716.7 1012.0,1745.7 1013.0,1748.3 1014.0,1721.9 1015.0,1710.9 1016.0,1748.0 1017.0,1710.0 1018.0,1713.6 1019.0,1728.4 1020.0,1737.5 1021.0,1751.5 1022.0,1753.7 1023.0,1707.3 1024.0,1745.8 1025.0,1721.8 1026.1,1744.8 1027.1,1714.7 1028.1,1727.4 1029.1,1743.1 1030.1,1748.4 1031.1,1720.5 1032.1,1752.7 1033.1,1746.1 1034.1,1729.7 1035.1,1713.4 1036.1,1727.0 1037.1,1744.0 1038.1,1710.5 1039.1,1747.5 1040.1,1754.3 1041.1,1744.8 1042.1,1736.7 1043.1,1753.1 1044.1,1748.9 1045.1,1740.8 1046.1,1731.4 1047.1,1750.7 1048.1,1741.5 1049.1,1716.2 1050.1,1711.9 1051.1,1728.5 1052.2,1741.0 1053.2,1743.7 1054.2,1753.8 1055.2,1754.5 1056.2,1754.6 1057.2,1746.6 1058.2,1748.8 1059.2,1746.0 1060.2,1754.6 1061.2,1749.4 1062.2,1750.9 1063.2,1748.5 1064.2,1752.4 1065.2,1745.6 1066.2,1754.3 1067.2,1750.3 1068.2,1748.4 1069.2,1746.7 1070.0,1754.7" fill="none" stroke="#ff1a1e" stroke-width="5" stroke-linejoin="round" />
<text x="1453.25" y="1042.20" font-size="76.5" font-weight="bold" fill="#000" letter-spacing="4.044" >(c)</text>
<line x1="1320.0" y1="1241.5" x2="1320.0" y2="1774.7" stroke="#262626" stroke-width="2.1" />
<line x1="1320.0" y1="1241.5" x2="1556.5" y2="1110.0" stroke="#262626" stroke-width="2.1" />
<line x1="1556.5" y1="1110.0" x2="1556.5" y2="1643.0" stroke="#262626" stroke-width="2.1" />
<line x1="1556.5" y1="1110.0" x2="2232.6" y2="1155.7" stroke="#262626" stroke-width="2.1" />
<line x1="2232.6" y1="1155.7" x2="2232.6" y2="1689.0" stroke="#262626" stroke-width="2.1" />
<line x1="1556.5" y1="1643.0" x2="2232.6" y2="1689.0" stroke="#262626" stroke-width="2.1" />
<line x1="1320.0" y1="1774.7" x2="1556.5" y2="1643.0" stroke="#262626" stroke-width="2.1" />
<line x1="1320.0" y1="1774.7" x2="1996.0" y2="1820.7" stroke="#262626" stroke-width="2.1" />
<line x1="1996.0" y1="1820.7" x2="2232.6" y2="1689.0" stroke="#262626" stroke-width="2.1" />
<line x1="1320.0" y1="1241.8" x2="1302.5" y2="1240.6" stroke="#262626" stroke-width="1.9" />
<text x="1283.04" y="1253.00" font-size="33.5" font-weight="normal" fill="#404040" letter-spacing="0.000" >0</text>
<line x1="1320.0" y1="1375.0" x2="1302.5" y2="1373.8" stroke="#262626" stroke-width="1.9" />
<text x="1273.54" y="1386.23" font-size="33.5" font-weight="normal" fill="#404040" letter-spacing="-1.292" >-5</text>
<line x1="1320.0" y1="1508.2" x2="1302.5" y2="1507.0" stroke="#262626" stroke-width="1.9" />
<text x="1259.34" y="1519.45" font-size="33.5" font-weight="normal" fill="#404040" letter-spacing="0.937" >-10</text>
<line x1="1320.0" y1="1641.5" x2="1302.5" y2="1640.3" stroke="#262626" stroke-width="1.9" />
<text x="1259.34" y="1652.67" font-size="33.5" font-weight="normal" fill="#404040" letter-spacing="0.479" >-15</text>
<line x1="1320.0" y1="1774.7" x2="1302.5" y2="1773.5" stroke="#262626" stroke-width="1.9" />
<text x="1259.34" y="1785.90" font-size="33.5" font-weight="normal" fill="#404040" letter-spacing="0.937" >-20</text>
<text transform="translate(1246.00,1672.85) rotate(-90)" x="0" y="0" font-size="31" font-weight="normal" fill="#404040" letter-spacing="-0.311">Normalized amplitude (dB)</text>
<text x="1515.66" y="1896.00" font-size="33.5" font-weight="normal" fill="#404040" letter-spacing="0.220" >Optical wavelength (nm)</text>
<text x="1209.57" y="1818.30" font-size="33.5" font-weight="normal" fill="#404040" letter-spacing="-0.115" >1559.60</text>
<text x="1545.57" y="1841.30" font-size="33.5" font-weight="normal" fill="#404040" letter-spacing="0.219" >1559.78</text>
<text x="1884.57" y="1865.00" font-size="33.5" font-weight="normal" fill="#404040" letter-spacing="0.177" >1559.96</text>
<text x="2026.62" y="1852.00" font-size="33.5" font-weight="normal" fill="#404040" letter-spacing="0.000" >0</text>
<text x="2130.47" y="1794.30" font-size="33.5" font-weight="normal" fill="#404040" letter-spacing="-0.000" >20</text>
<text x="2236.04" y="1735.00" font-size="33.5" font-weight="normal" fill="#404040" letter-spacing="-0.000" >40</text>
<text transform="translate(2188,1809.5) rotate(-27.6)" font-size="32.2" fill="#1e1e1e" text-anchor="middle" stroke="#1e1e1e" stroke-width="0.35">RF frequency (GHz)</text>
<line x1="1320.0" y1="1775.0" x2="1306.0" y2="1784.0" stroke="#262626" stroke-width="1.9" />
<line x1="1657.0" y1="1798.3" x2="1642.7" y2="1807.5" stroke="#262626" stroke-width="1.9" />
<line x1="1996.0" y1="1820.7" x2="1980.0" y2="1830.0" stroke="#262626" stroke-width="1.9" />
<line x1="1996.0" y1="1820.7" x2="2013.0" y2="1822.0" stroke="#262626" stroke-width="1.9" />
<line x1="2100.0" y1="1762.0" x2="2117.0" y2="1763.0" stroke="#262626" stroke-width="1.9" />
<line x1="2210.0" y1="1701.0" x2="2226.0" y2="1702.0" stroke="#262626" stroke-width="1.9" />
<line x1="1894.8" y1="1134.0" x2="1894.8" y2="1666.5" stroke="#7d7d7d" stroke-width="1.3" stroke-dasharray="24 7"/>
<line x1="1845.0" y1="1262.8" x2="2232.0" y2="1291.0" stroke="#3a3a3a" stroke-width="1.6" stroke-dasharray="15.5 6.5"/>
<line x1="1845.0" y1="1396.0" x2="2183.0" y2="1420.0" stroke="#555" stroke-width="1.4" stroke-dasharray="15.5 6.5"/>
<line x1="1845.0" y1="1529.3" x2="2080.0" y2="1545.0" stroke="#3a3a3a" stroke-width="1.6" stroke-dasharray="15.5 6.5"/>
<line x1="1546.1" y1="1658.8" x2="1829.2" y2="1678.2" stroke="#3a3a3a" stroke-width="1.6" stroke-dasharray="15.5 6.5"/>
<line x1="1758.7" y1="1739.9" x2="1818.2" y2="1742.4" stroke="#3a3a3a" stroke-width="1.6" stroke-dasharray="15.5 6.5"/>
<line x1="1644.5" y1="1806.3" x2="1758.7" y2="1740.7" stroke="#3a3a3a" stroke-width="1.6" stroke-dasharray="15.5 6.5"/>
<line x1="1962.8" y1="1687.2" x2="2205.0" y2="1702.0" stroke="#777" stroke-width="1.3" stroke-dasharray="15.5 6.5"/>
<line x1="1553.4" y1="1243.9" x2="1576.4" y2="1242.9" stroke="#666" stroke-width="1.3" stroke-dasharray="15.5 6.5"/>
<line x1="1424.0" y1="1184.0" x2="1424.0" y2="1715.0" stroke="#555" stroke-width="1.3" stroke-dasharray="28 350"/>
<line x1="1424.0" y1="1561.0" x2="1424.0" y2="1715.0" stroke="#555" stroke-width="1.3" stroke-dasharray="23 8"/>
<line x1="1530.0" y1="1180.0" x2="1530.0" y2="1530.0" stroke="#444" stroke-width="1.5" stroke-dasharray="26 9"/>
<line x1="1327.0" y1="1372.0" x2="1338.0" y2="1366.0" stroke="#333" stroke-width="1.5" stroke-dasharray="40 10"/>
<line x1="1328.0" y1="1504.0" x2="1368.0" y2="1482.0" stroke="#555" stroke-width="1.3" stroke-dasharray="22 8"/>
<line x1="1328.0" y1="1637.0" x2="1393.0" y2="1600.0" stroke="#333" stroke-width="1.5" stroke-dasharray="24 8"/>
<polyline points="1576.9,1673.8 1579.6,1557.2 1583.3,1460.0 1583.7,1415.9 1585.0,1355.1 1587.4,1306.5 1590.5,1221.5 1592.2,1160.7 1594.4,1130.4 1596.4,1160.7 1597.1,1197.2 1599.0,1270.1 1601.2,1306.5 1602.7,1355.1 1603.7,1415.9 1603.9,1460.0 1605.1,1557.2 1605.6,1658.0" fill="none" stroke="#0074c2" stroke-width="5" stroke-linejoin="round" stroke-linecap="round"/>
<polyline points="1615.3,1694.5 1617.3,1630.1 1620.2,1557.2 1622.6,1484.3 1623.3,1460.1 1625.0,1391.6 1627.5,1318.7 1630.4,1245.8 1633.1,1185.0 1634.8,1155.9 1636.7,1149.8 1637.7,1172.9 1639.6,1209.3 1642.1,1255.5 1645.0,1294.4 1646.9,1318.7 1650.6,1357.6 1653.7,1391.6 1656.6,1428.0 1658.6,1460.0 1661.5,1496.4 1664.4,1532.9 1666.4,1581.5 1667.6,1630.1 1668.1,1665.3" fill="none" stroke="#f2531b" stroke-width="5" stroke-linejoin="round" stroke-linecap="round"/>
<polyline points="1669.5,1707.4 1670.0,1654.4 1671.2,1581.5 1673.2,1508.6 1674.9,1460.1 1676.6,1391.6 1678.5,1318.7 1680.4,1245.8 1682.4,1197.2 1683.6,1165.6 1685.3,1192.3 1687.3,1221.5 1690.2,1270.1 1693.1,1318.7 1695.5,1355.1 1697.9,1403.7 1700.4,1460.0 1704.0,1508.6 1708.9,1557.2 1712.5,1615.5 1717.4,1617.9 1718.6,1649.5 1720.3,1678.7" fill="none" stroke="#fdb00c" stroke-width="5" stroke-linejoin="round" stroke-linecap="round"/>
<polyline points="1711.8,1726.1 1713.0,1654.4 1715.0,1581.5 1717.4,1520.7 1719.8,1460.1 1721.8,1391.6 1723.9,1318.7 1726.6,1245.8 1729.5,1197.2 1731.2,1181.4 1732.4,1197.2 1733.2,1226.4 1734.4,1270.1 1735.6,1318.7 1736.3,1343.0 1739.3,1352.7 1741.7,1356.4 1743.6,1367.3 1746.5,1386.7 1749.5,1398.9 1751.4,1415.9 1753.3,1440.2 1755.0,1460.0 1757.5,1496.4 1761.1,1532.9 1764.0,1581.5 1766.5,1630.1 1768.4,1666.5 1769.1,1694.0" fill="none" stroke="#8c2796" stroke-width="5" stroke-linejoin="round" stroke-linecap="round"/>
<polyline points="1753.8,1744.8 1755.8,1678.7 1758.2,1605.8 1759.9,1532.9 1763.6,1460.1 1765.5,1391.6 1767.2,1343.0 1768.9,1294.4 1770.8,1257.9 1772.8,1221.5 1774.0,1199.6 1776.2,1199.6 1776.2,1221.5 1776.9,1245.8 1779.3,1282.2 1781.0,1318.7 1783.0,1343.0 1785.4,1379.4 1787.8,1428.0 1791.5,1460.0 1795.1,1508.6 1798.1,1557.2 1800.5,1605.8 1801.9,1654.4 1801.7,1698.1" fill="none" stroke="#62b030" stroke-width="5" stroke-linejoin="round" stroke-linecap="round"/>
<polyline points="1800.7,1761.3 1802.4,1678.7 1804.9,1630.1 1807.3,1581.5 1810.2,1508.6 1812.1,1460.1 1814.1,1391.6 1815.8,1343.0 1817.5,1294.4 1819.4,1245.8 1821.4,1216.6 1823.1,1236.1 1824.3,1250.7 1826.2,1282.2 1827.9,1318.7 1829.6,1355.1 1831.6,1403.7 1834.0,1413.5 1836.0,1440.2 1836.9,1460.0 1838.9,1496.4 1841.3,1518.3 1843.7,1532.9 1846.2,1569.3 1849.8,1617.9 1853.0,1642.2 1854.7,1678.7 1856.6,1721.2" fill="none" stroke="#20c0f0" stroke-width="5" stroke-linejoin="round" stroke-linecap="round"/>
<polyline points="1857.1,1772.2 1858.8,1703.0 1861.2,1630.1 1864.4,1557.2 1868.0,1460.1 1870.5,1391.6 1872.9,1343.0 1874.8,1294.4 1876.5,1257.9 1878.5,1227.6 1880.2,1250.7 1881.4,1282.2 1883.1,1318.7 1885.5,1367.3 1888.0,1403.7 1889.9,1440.2 1891.6,1460.0 1893.6,1484.3 1896.0,1532.9 1898.4,1581.5 1902.1,1593.6 1904.0,1630.1 1905.7,1678.7 1909.3,1698.1 1911.8,1715.1 1912.3,1741.4" fill="none" stroke="#c0122b" stroke-width="5" stroke-linejoin="round" stroke-linecap="round"/>
<polyline points="1893.1,1794.8 1897.2,1727.3 1902.1,1654.4 1906.9,1581.5 1911.8,1520.7 1916.1,1460.1 1919.1,1403.7 1921.5,1343.0 1923.9,1294.4 1925.9,1265.2 1927.3,1242.1 1929.3,1270.1 1931.2,1318.7 1933.6,1367.3 1936.6,1415.9 1939.0,1460.0 1942.1,1508.6 1943.8,1537.8 1947.0,1557.2 1950.7,1605.8 1953.1,1630.1 1956.0,1666.5 1960.4,1690.8 1964.0,1727.3 1965.7,1751.6 1969.6,1750.4" fill="none" stroke="#0074c2" stroke-width="5" stroke-linejoin="round" stroke-linecap="round"/>
<polyline points="1951.4,1803.8 1953.1,1727.3 1956.0,1654.4 1959.2,1581.5 1962.3,1508.6 1965.2,1460.1 1967.7,1403.7 1970.1,1343.0 1972.0,1294.4 1974.5,1257.9 1976.2,1282.2 1978.6,1330.8 1981.0,1379.4 1983.5,1428.0 1985.9,1460.0 1989.5,1508.6 1993.2,1557.2 1998.0,1605.8 2002.9,1649.5 2007.8,1678.7 2011.4,1703.0 2016.3,1715.1 2019.9,1732.1 2023.6,1751.6 2026.0,1762.5 2029.6,1760.8" fill="none" stroke="#f2531b" stroke-width="5" stroke-linejoin="round" stroke-linecap="round"/>
</svg>
</body></html>
